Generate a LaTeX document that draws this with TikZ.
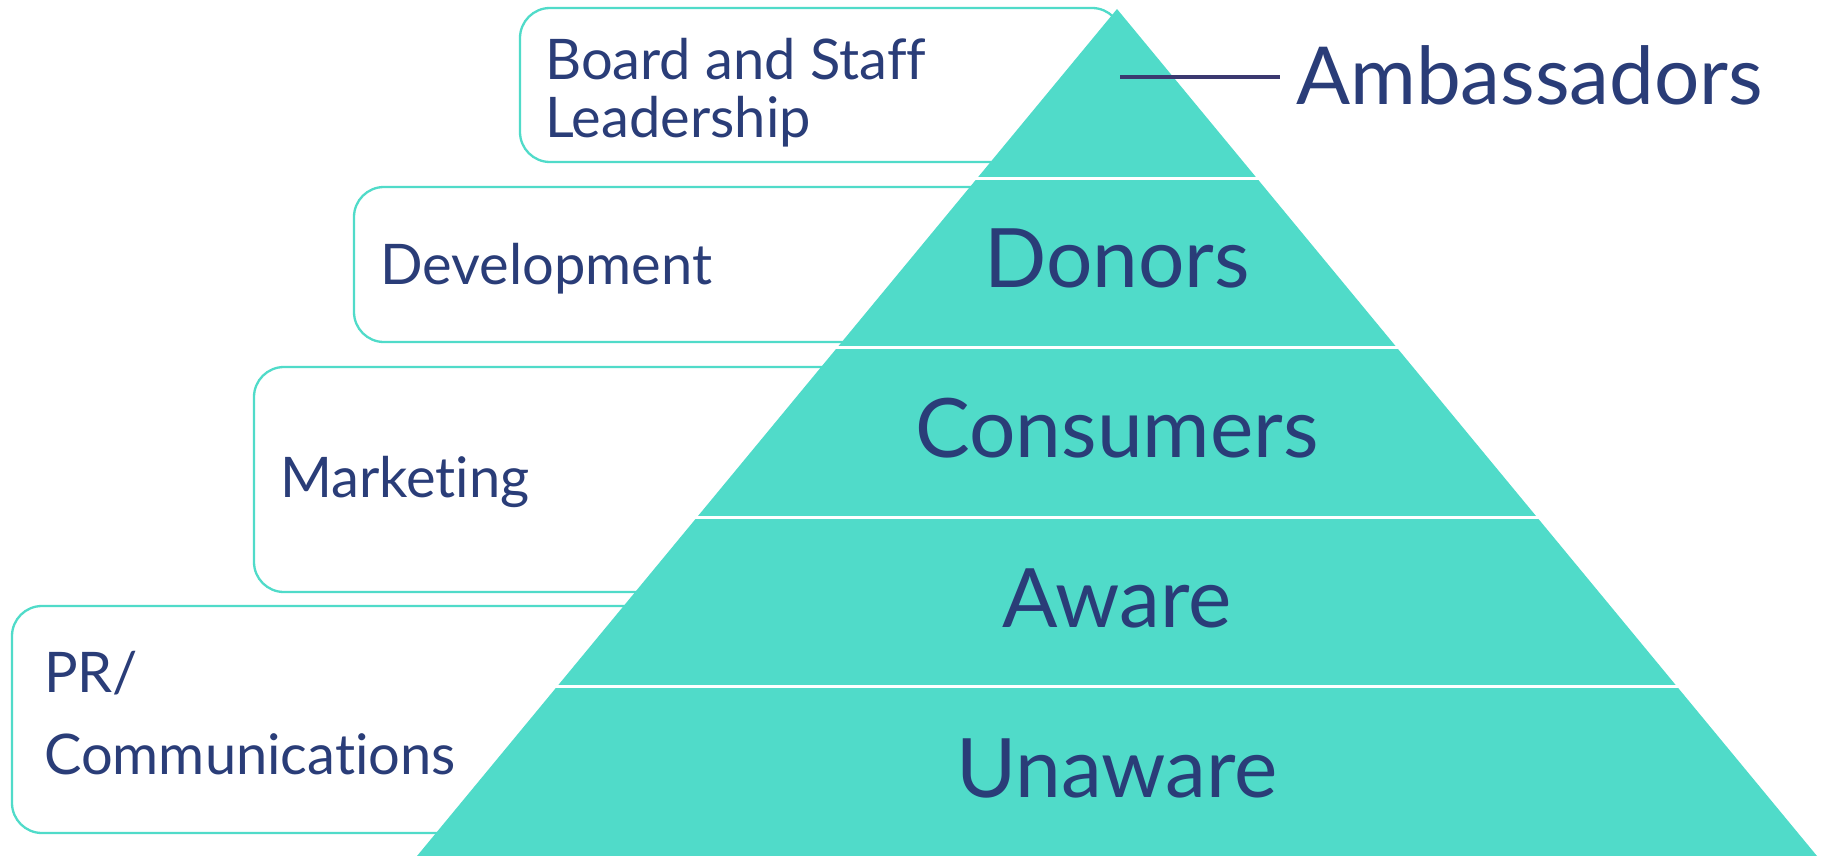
\documentclass[tikz,border=0pt]{standalone}
\usepackage{fontspec}
\setmainfont{Lato}[Ligatures=NoCommon]
\definecolor{teal}{HTML}{50DBC9}
\definecolor{navy}{HTML}{2A3D78}
\definecolor{leader}{HTML}{3B3970}
\tikzset{
  areabox/.style={draw=teal, line width=2.3pt, rounded corners=30pt, fill=white},
  boxtext/.style={anchor=base west, inner sep=0pt, text=navy, font=\fontsize{56}{58}\selectfont},
  tiertext/.style={anchor=base, inner sep=0pt, text=navy, font=\fontsize{82}{90}\selectfont},
  divider/.style={draw=white, line width=3pt},
}
\begin{document}
\begin{tikzpicture}[x=1pt,y=-1pt]
\useasboundingbox (0,0) rectangle (1830,856);

% department boxes, their right ends tucked under the pyramid
\draw[areabox] (520,8) rectangle (1122,162);
\draw[areabox] (354,187) rectangle (1010,342);
\draw[areabox] (254,367) rectangle (862,592);
\draw[areabox] (12,606) rectangle (668,833);

% pyramid
\coordinate (apex) at (1117,9);
\coordinate (bl) at (417,856);
\coordinate (br) at (1817,856);
\fill[teal] (apex) -- (bl) -- (br) -- cycle;

% tier dividers
\foreach \t in {1,2,3,4}{
  \pgfmathsetmacro{\yy}{9+169.4*\t}
  \pgfmathsetmacro{\dx}{0.8264*169.4*\t+3}
  \draw[divider] (1117-\dx,\yy) -- (1117+\dx,\yy);
}

% department labels
\node[boxtext] (board) at (545,80) {Board and Staff};
\node[boxtext] (lead) at (545,138) {Leadership};
\node[boxtext] (dev) at (380,284) {Development};
\node[boxtext] (mkt) at (280,497) {Marketing};
\node[boxtext] (pr) at (44,692) {PR/};
\node[boxtext] (comm) at (44,774) {Communications};

% tier labels
\node[tiertext] (donors) at (1117,287) {Donors};
\node[tiertext] (consumers) at (1117,457) {Consumers};
\node[tiertext] (aware) at (1117,627) {Aware};
\node[tiertext] (unaware) at (1117,797) {Unaware};

% top tier callout
\coordinate (lstart) at (1120,77);
\node[anchor=base west, inner sep=0pt, text=navy, font=\fontsize{80}{82}\selectfont] (amb) at (1296,105) {Ambassadors};
\draw[leader, line width=3.5pt] (lstart) -- (1280,77);
\end{tikzpicture}
\end{document}
